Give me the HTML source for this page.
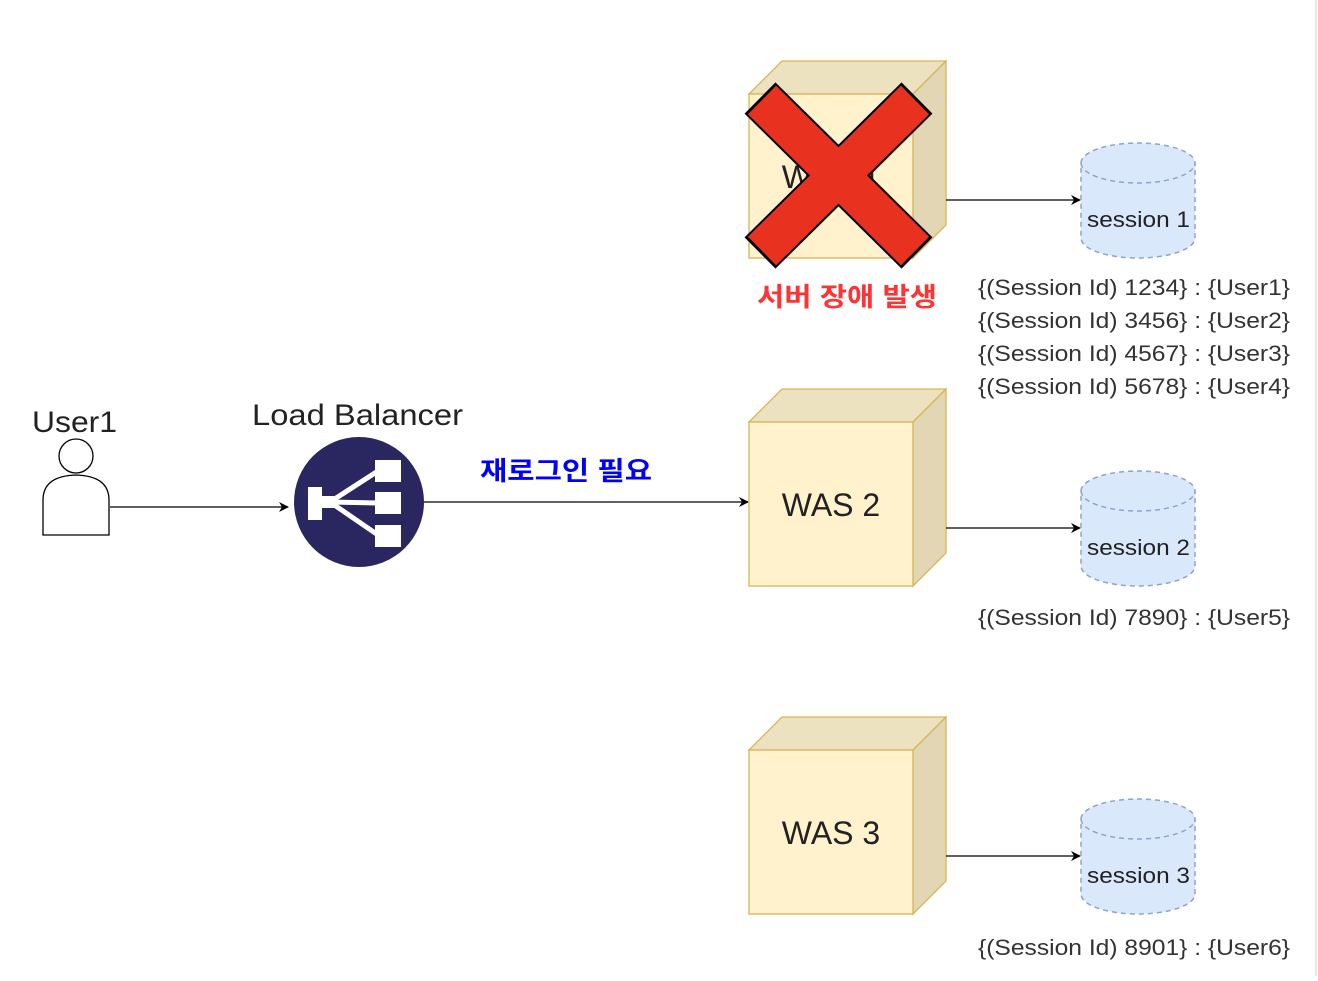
<!DOCTYPE html>
<html><head><meta charset="utf-8"><style>
html,body{margin:0;padding:0;background:#fff;}
svg text{font-family:"Liberation Sans","Noto Sans CJK KR",sans-serif;}
</style></head><body>
<svg width="1318" height="976" viewBox="0 0 1318 976" xmlns="http://www.w3.org/2000/svg">
<defs>
<marker id="ah" markerWidth="10" markerHeight="10" refX="9" refY="5" orient="auto" markerUnits="userSpaceOnUse">
<path d="M0,0 L10,5 L0,10 L3,5 Z" fill="#000"/>
</marker>
</defs>
<line x1="1316" y1="0" x2="1316" y2="976" stroke="#e6e6e6" stroke-width="2"/>

<!-- User -->
<text x="32" y="432" font-size="30" fill="#222" textLength="85" lengthAdjust="spacingAndGlyphs">User1</text>
<circle cx="76" cy="456" r="17" fill="#fff" stroke="#000" stroke-width="1.3"/>
<path d="M43,535 L43,500 Q43,476 76,475 Q109,476 109,500 L109,535 Z" fill="#fff" stroke="#000" stroke-width="1.3"/>
<line x1="110" y1="507" x2="288" y2="507" stroke="#000" stroke-width="1.3" marker-end="url(#ah)"/>

<!-- Load balancer -->
<text x="252" y="425" font-size="30" fill="#222" textLength="211" lengthAdjust="spacingAndGlyphs">Load Balancer</text>
<circle cx="359" cy="502" r="65" fill="#2a2760"/>
<g fill="#fff" stroke="#fff">
<path d="M308,487 L322,487 L322,496 L334,496 L334,508 L322,508 L322,520 L308,520 Z" stroke="none"/>
<line x1="330" y1="502" x2="378" y2="471" stroke-width="5"/>
<line x1="330" y1="502" x2="378" y2="503" stroke-width="5"/>
<line x1="330" y1="502" x2="378" y2="535" stroke-width="5"/>
<rect x="375" y="460" width="26" height="22" stroke="none"/>
<rect x="375" y="492" width="26" height="22" stroke="none"/>
<rect x="375" y="525" width="26" height="22" stroke="none"/>
</g>
<line x1="424" y1="502" x2="748" y2="502" stroke="#000" stroke-width="1.3" marker-end="url(#ah)"/>
<text x="480" y="480" font-size="26" font-weight="bold" fill="#0000ff" textLength="172" lengthAdjust="spacingAndGlyphs">재로그인 필요</text>

<!-- cubes -->
<g stroke="#d6b656" stroke-width="1.3">
<path d="M749,94 L782,61 L946,61 L913,94 Z" fill="#ede2c0"/>
<path d="M913,94 L946,61 L946,225 L913,258 Z" fill="#e2d6b4"/>
<rect x="749" y="94" width="164" height="164" fill="#fff2cc"/>
<path d="M749,422 L782,389 L946,389 L913,422 Z" fill="#ede2c0"/>
<path d="M913,422 L946,389 L946,553 L913,586 Z" fill="#e2d6b4"/>
<rect x="749" y="422" width="164" height="164" fill="#fff2cc"/>
<path d="M749,750 L782,717 L946,717 L913,750 Z" fill="#ede2c0"/>
<path d="M913,750 L946,717 L946,881 L913,914 Z" fill="#e2d6b4"/>
<rect x="749" y="750" width="164" height="164" fill="#fff2cc"/>
</g>
<text x="831" y="188" font-size="32" fill="#222" text-anchor="middle">WAS 1</text>
<text x="831" y="516" font-size="32" fill="#222" text-anchor="middle">WAS 2</text>
<text x="831" y="844" font-size="32" fill="#222" text-anchor="middle">WAS 3</text>

<!-- X -->
<g stroke-linecap="butt">
<line x1="760" y1="98" x2="917" y2="253" stroke="#000" stroke-width="44"/>
<line x1="917" y1="98" x2="760" y2="253" stroke="#000" stroke-width="44"/>
<line x1="762" y1="100" x2="915" y2="251" stroke="#e8321f" stroke-width="40"/>
<line x1="915" y1="100" x2="762" y2="251" stroke="#e8321f" stroke-width="40"/>
</g>
<text x="757" y="306" font-size="26" font-weight="bold" fill="#ff3333" textLength="180" lengthAdjust="spacingAndGlyphs">서버 장애 발생</text>

<!-- arrows to sessions -->
<line x1="946" y1="200" x2="1080" y2="200" stroke="#000" stroke-width="1.3" marker-end="url(#ah)"/>
<line x1="946" y1="528" x2="1080" y2="528" stroke="#000" stroke-width="1.3" marker-end="url(#ah)"/>
<line x1="946" y1="856" x2="1080" y2="856" stroke="#000" stroke-width="1.3" marker-end="url(#ah)"/>

<!-- cylinders -->
<g fill="#dae8fc" stroke="#8fa3c7" stroke-width="1.5" stroke-dasharray="5,4">
<path d="M1081,163 A57,20 0 0 1 1195,163 L1195,238 A57,20 0 0 1 1081,238 Z"/>
<path d="M1081,163 A57,20 0 0 0 1195,163" fill="none"/>
<path d="M1081,491 A57,20 0 0 1 1195,491 L1195,566 A57,20 0 0 1 1081,566 Z"/>
<path d="M1081,491 A57,20 0 0 0 1195,491" fill="none"/>
<path d="M1081,819 A57,20 0 0 1 1195,819 L1195,894 A57,20 0 0 1 1081,894 Z"/>
<path d="M1081,819 A57,20 0 0 0 1195,819" fill="none"/>
</g>
<g font-size="22" fill="#222">
<text x="1087" y="227" textLength="103" lengthAdjust="spacingAndGlyphs">session 1</text>
<text x="1087" y="555" textLength="103" lengthAdjust="spacingAndGlyphs">session 2</text>
<text x="1087" y="883" textLength="103" lengthAdjust="spacingAndGlyphs">session 3</text>
</g>
<g font-size="22" fill="#333">
<text x="978" y="295" textLength="312" lengthAdjust="spacingAndGlyphs">{(Session Id) 1234} : {User1}</text>
<text x="978" y="328" textLength="312" lengthAdjust="spacingAndGlyphs">{(Session Id) 3456} : {User2}</text>
<text x="978" y="361" textLength="312" lengthAdjust="spacingAndGlyphs">{(Session Id) 4567} : {User3}</text>
<text x="978" y="394" textLength="312" lengthAdjust="spacingAndGlyphs">{(Session Id) 5678} : {User4}</text>
<text x="978" y="625" textLength="312" lengthAdjust="spacingAndGlyphs">{(Session Id) 7890} : {User5}</text>
<text x="978" y="955" textLength="312" lengthAdjust="spacingAndGlyphs">{(Session Id) 8901} : {User6}</text>
</g>
</svg>
</body></html>
